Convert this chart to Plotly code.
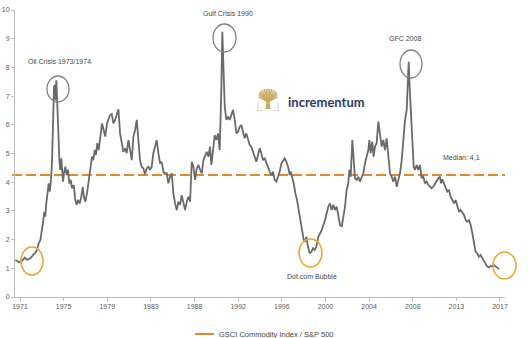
import plotly.graph_objects as go

# ---------------- data (ratio GSCI Commodity Index / S&P 500) ----------------
years_1970s = [1970.55, 1970.93, 1971.19, 1971.45, 1971.67, 1971.99, 1972.25, 1972.47, 1972.63, 1972.79,
               1972.95, 1973.11, 1973.20, 1973.33, 1973.42, 1973.52, 1973.65, 1973.75, 1973.85, 1973.97,
               1974.07, 1974.16, 1974.26, 1974.35, 1974.42, 1974.48, 1974.57, 1974.67, 1974.77, 1974.86,
               1974.96, 1975.02, 1975.12, 1975.22, 1975.34, 1975.48, 1975.60, 1975.72, 1975.86, 1975.98,
               1976.15, 1976.30, 1976.43, 1976.56, 1976.72, 1976.87, 1977.01, 1977.13, 1977.26, 1977.42,
               1977.58, 1977.74, 1977.90, 1978.02, 1978.16, 1978.28, 1978.41, 1978.54, 1978.70, 1978.86,
               1979.02, 1979.17, 1979.34, 1979.56]
ratio_1970s = [1.29, 1.21, 1.25, 1.37, 1.29, 1.35, 1.46, 1.54, 1.64, 1.87,
               1.99, 2.33, 2.57, 2.97, 2.80, 3.26, 3.67, 3.96, 3.67, 4.08,
               4.77, 5.93, 7.33, 7.39, 6.86, 7.55, 6.86, 5.82, 4.77, 4.43,
               4.83, 4.31, 4.02, 4.31, 4.54, 4.25, 4.43, 3.96, 4.08, 3.79,
               3.90, 3.38, 3.21, 3.38, 3.26, 3.49, 3.84, 3.49, 3.32, 3.61,
               4.08, 4.54, 4.89, 4.77, 5.12, 4.95, 5.36, 5.12, 5.59, 6.05,
               5.82, 5.59, 6.05, 6.34]

years_1980s = [1979.63, 1979.79, 1979.95, 1980.11, 1980.27, 1980.43, 1980.59, 1980.75, 1980.91, 1981.07,
               1981.23, 1981.39, 1981.55, 1981.71, 1981.87, 1982.03, 1982.19, 1982.35, 1982.50, 1982.66,
               1982.82, 1982.98, 1983.14, 1983.30, 1983.46, 1983.62, 1983.78, 1983.94, 1984.10, 1984.26,
               1984.42, 1984.58, 1984.74, 1984.90, 1985.06, 1985.22, 1985.38, 1985.54, 1985.70, 1985.86,
               1986.02, 1986.18, 1986.34, 1986.50, 1986.66, 1986.82, 1986.98, 1987.14, 1987.30, 1987.46,
               1987.62, 1987.78, 1987.94, 1988.10, 1988.26, 1988.42, 1988.58, 1988.74, 1988.90, 1989.06,
               1989.21]
ratio_1980s = [6.34, 6.37, 6.05, 6.17, 6.40, 6.54, 5.70, 5.36, 5.06, 5.18,
               5.01, 5.47, 5.18, 4.77, 5.59, 5.82, 6.17, 5.36, 4.77, 4.54,
               4.48, 4.29, 4.48, 4.54, 4.43, 4.54, 5.01, 5.24, 5.47, 5.01,
               4.66, 4.71, 4.37, 4.29, 4.31, 3.96, 4.19, 4.31, 3.61, 3.26,
               3.03, 3.32, 3.21, 3.55, 3.32, 3.03, 3.32, 3.49, 3.32, 4.71,
               4.54, 4.08, 4.48, 4.60, 4.43, 4.31, 4.77, 4.95, 5.06, 4.89,
               5.24]

years_1990s = [1989.34, 1989.50, 1989.66, 1989.82, 1989.98, 1990.14, 1990.23, 1990.30, 1990.39, 1990.49,
               1990.62, 1990.78, 1990.94, 1991.10, 1991.26, 1991.42, 1991.58, 1991.74, 1991.90, 1992.05,
               1992.21, 1992.37, 1992.53, 1992.69, 1992.85, 1993.01, 1993.17, 1993.33, 1993.49, 1993.65,
               1993.81, 1993.97, 1994.13, 1994.29, 1994.45, 1994.61, 1994.77, 1994.93, 1995.09, 1995.25,
               1995.41, 1995.57, 1995.73, 1995.89, 1996.05, 1996.21, 1996.37, 1996.53, 1996.69, 1996.85,
               1996.94, 1997.07, 1997.23, 1997.39, 1997.55, 1997.71, 1997.87, 1998.03, 1998.19, 1998.35,
               1998.44, 1998.60, 1998.76, 1998.92, 1999.08, 1999.24, 1999.40]
ratio_1990s = [4.60, 5.12, 5.64, 5.47, 5.70, 5.12, 6.17, 7.33, 9.24, 7.91,
               6.63, 6.17, 6.28, 6.17, 6.34, 6.52, 6.17, 5.70, 5.76, 5.93,
               5.99, 5.70, 5.53, 5.70, 5.47, 5.30, 5.24, 5.06, 4.89, 4.71,
               4.95, 5.18, 5.01, 4.77, 4.83, 4.66, 4.48, 4.37, 4.25, 4.37,
               4.08, 4.02, 4.19, 4.37, 4.66, 4.77, 4.83, 4.71, 4.54, 4.25,
               4.37, 4.19, 3.96, 3.61, 3.38, 3.03, 2.68, 2.33, 1.99, 1.93,
               2.10, 1.75, 1.52, 1.58, 1.70, 1.64, 1.75]

years_2000s = [1999.59, 1999.91, 2000.23, 2000.55, 2000.71, 2000.87, 2001.03, 2001.19, 2001.35, 2001.51,
               2001.67, 2001.83, 2001.99, 2002.15, 2002.30, 2002.46, 2002.56, 2002.69, 2002.85, 2002.98,
               2003.10, 2003.26, 2003.42, 2003.58, 2003.74, 2003.90, 2004.06, 2004.22, 2004.38, 2004.48,
               2004.60, 2004.76, 2004.89, 2005.02, 2005.18, 2005.34, 2005.50, 2005.66, 2005.82, 2005.98,
               2006.14, 2006.30, 2006.46, 2006.62, 2006.78, 2006.94, 2007.10, 2007.26, 2007.42, 2007.58,
               2007.74, 2007.90, 2008.06, 2008.15, 2008.25, 2008.34, 2008.47, 2008.60, 2008.73, 2008.85,
               2009.01, 2009.17, 2009.33, 2009.49, 2009.65]
ratio_2000s = [2.10, 2.33, 2.68, 3.15, 3.26, 3.03, 3.21, 3.03, 3.15, 2.80,
               2.51, 2.45, 2.80, 3.15, 3.73, 3.96, 4.43, 4.19, 5.47, 4.77,
               4.14, 4.08, 4.19, 4.02, 4.14, 4.31, 4.66, 4.89, 5.12, 5.47,
               5.01, 5.41, 4.89, 5.24, 5.36, 6.11, 5.59, 5.24, 5.47, 5.12,
               5.53, 4.89, 4.31, 4.19, 4.02, 4.19, 3.84, 4.08, 4.31, 4.77,
               5.47, 6.17, 6.52, 7.21, 8.20, 7.33, 6.28, 5.47, 4.54, 4.43,
               4.60, 4.43, 4.60, 4.14, 4.19]

years_2010s = [2009.81, 2009.97, 2010.13, 2010.29, 2010.45, 2010.61, 2010.77, 2010.93, 2011.09, 2011.25,
               2011.34, 2011.47, 2011.63, 2011.79, 2011.95, 2012.11, 2012.27, 2012.43, 2012.59, 2012.75,
               2012.91, 2013.07, 2013.23, 2013.39, 2013.55, 2013.71, 2013.87, 2014.03, 2014.19, 2014.35,
               2014.51, 2014.66, 2014.82, 2014.98, 2015.14, 2015.30, 2015.46, 2015.62, 2015.78, 2015.94,
               2016.10, 2016.26, 2016.42, 2016.58, 2016.74, 2016.90]
ratio_2010s = [3.96, 4.02, 3.90, 3.84, 3.79, 3.84, 3.96, 4.02, 4.14, 4.19,
               3.96, 4.10, 3.96, 3.84, 3.67, 3.73, 3.49, 3.38, 3.26, 3.38,
               3.15, 2.97, 3.03, 2.92, 2.86, 2.68, 2.62, 2.68, 2.51, 2.22,
               1.87, 1.58, 1.52, 1.40, 1.46, 1.35, 1.29, 1.17, 1.06, 1.03,
               1.08, 1.06, 1.11, 1.06, 1.03, 0.97]

median_level = 4.25
median_label = "Median: 4,1"
series_name = "GSCI Commodity Index / S&P 500"

tick_positions = [1971, 1975.18, 1979.36, 1983.55, 1987.73, 1991.91, 1996.09, 2000.27, 2004.45, 2008.64, 2012.82, 2017.0]
tick_labels = ["1971", "1975", "1979", "1983", "1988", "1992", "1996", "2000", "2004", "2008", "2013", "2017"]
y_ticks = list(range(0, 11))

years = years_1970s + years_1980s + years_1990s + years_2000s + years_2010s
ratio = ratio_1970s + ratio_1980s + ratio_1990s + ratio_2000s + ratio_2010s

# ---------------- layout helpers (pixel -> paper) ----------------
W, H = 529, 338
L, R, T, B = 15, 24, 10, 41
PW, PH = W - L - R, H - T - B


def PX(x):
    return (x - L) / PW


def PY(y):
    return (H - B - y) / PH


FONT = "Liberation Sans Narrow, Arial Narrow, Liberation Sans, Arial, sans-serif"
GREY_LINE = "#6a6a6a"
ORANGE = "#E8872A"
CIRCLE_ORANGE = "#F2A531"
CIRCLE_GREY = "#808080"
TEXT = "#454545"
GOLD = "#CDAA63"

fig = go.Figure()
fig.add_trace(go.Scatter(x=years, y=ratio, mode="lines",
                         line=dict(color=GREY_LINE, width=1.8),
                         showlegend=False, hoverinfo="x+y"))

shapes = []
# median dashed line
shapes.append(dict(type="line", xref="paper", yref="y", x0=PX(12), x1=1.0,
                   y0=median_level, y1=median_level,
                   line=dict(color=ORANGE, width=2, dash="10px,4px"), layer="below"))

# highlight circles
def circ(x0, x1, y0, y1, color, width=1.5):
    shapes.append(dict(type="circle", xref="paper", yref="paper",
                       x0=PX(x0), x1=PX(x1), y0=PY(y1), y1=PY(y0),
                       line=dict(color=color, width=width)))

circ(47, 69, 76, 102, CIRCLE_GREY, 1.3)
circ(213, 236, 24, 52, CIRCLE_GREY, 1.3)
circ(400, 422, 50, 78, CIRCLE_GREY, 1.3)
circ(21, 43, 247, 275, CIRCLE_ORANGE, 1.6)
circ(299, 322, 239, 267, CIRCLE_ORANGE, 1.6)
circ(493, 516, 252, 279, CIRCLE_ORANGE, 1.6)

# legend sample (manual)
shapes.append(dict(type="line", xref="paper", yref="paper",
                   x0=PX(195), x1=PX(214), y0=PY(334), y1=PY(334),
                   line=dict(color=ORANGE, width=2)))

# logo: tree icon
base = (268, 102)
tips = [(258.5, 97), (258.7, 95), (259, 93), (260, 91.3), (261.8, 90), (264, 89.3), (266, 89), (268, 88.8),
        (270, 89), (272, 89.3), (274.2, 90), (276, 91.3), (277, 93), (277.3, 95), (277.5, 97)]
for tx, ty in tips:
    shapes.append(dict(type="line", xref="paper", yref="paper",
                       x0=PX(base[0]), y0=PY(base[1]), x1=PX(tx), y1=PY(ty),
                       line=dict(color=GOLD, width=1.4)))
shapes.append(dict(type="path", xref="paper", yref="paper",
                   path=f"M {PX(266.6)},{PY(100)} L {PX(269.4)},{PY(100)} L {PX(270.5)},{PY(109)} L {PX(265.5)},{PY(109)} Z",
                   fillcolor=GOLD, line=dict(width=0)))
for pts in ([(258, 103), (258, 110.5), (263, 110.5)], [(278, 103), (278, 110.5), (273, 110.5)]):
    path = "M " + " L ".join(f"{PX(x)},{PY(y)}" for x, y in pts)
    shapes.append(dict(type="path", xref="paper", yref="paper", path=path,
                       line=dict(color="#DCD3C2", width=1.2)))

annotations = []

def label(text, x, y, size=7, color=TEXT, xanchor="center", family=FONT, weight=None):
    f = dict(family=family, size=size, color=color)
    if weight:
        f["weight"] = weight
    annotations.append(dict(text=text, xref="paper", yref="paper", x=PX(x), y=PY(y),
                            xanchor=xanchor, yanchor="middle", showarrow=False, font=f))

label("Oil Crisis 1973/1974", 59.5, 61.5)
label("Gulf Crisis 1990", 227.5, 13)
label("GFC 2008", 405, 39)
label(median_label, 461.5, 157)
label("Dot.com Bubble", 312, 276)
label(series_name, 217, 334, size=7.5, xanchor="left")
label("incrementum", 286, 101.5, size=13, color="#2E3B6B", xanchor="left",
      family="Lato, Liberation Sans, Arial, sans-serif", weight="bold")

fig.update_layout(
    width=W, height=H,
    margin=dict(l=L, r=R, t=T, b=B),
    paper_bgcolor="white", plot_bgcolor="white",
    template="none",
    showlegend=False,
    shapes=shapes,
    annotations=annotations,
    xaxis=dict(range=[1970.52, 2017.48], tickmode="array", tickvals=tick_positions,
               ticktext=tick_labels, showgrid=False, zeroline=False,
               showline=True, linecolor="#BFBFBF", linewidth=1,
               ticks="outside", ticklen=3, tickcolor="#BFBFBF",
               tickfont=dict(family=FONT, size=7, color="#595959"), automargin=False),
    yaxis=dict(range=[0, 10], tickmode="array", tickvals=y_ticks,
               showgrid=False, zeroline=False,
               showline=True, linecolor="#BFBFBF", linewidth=1,
               ticks="outside", ticklen=3, tickcolor="#BFBFBF",
               tickfont=dict(family=FONT, size=7, color="#595959"), automargin=False),
)

fig.write_html("out.html")
